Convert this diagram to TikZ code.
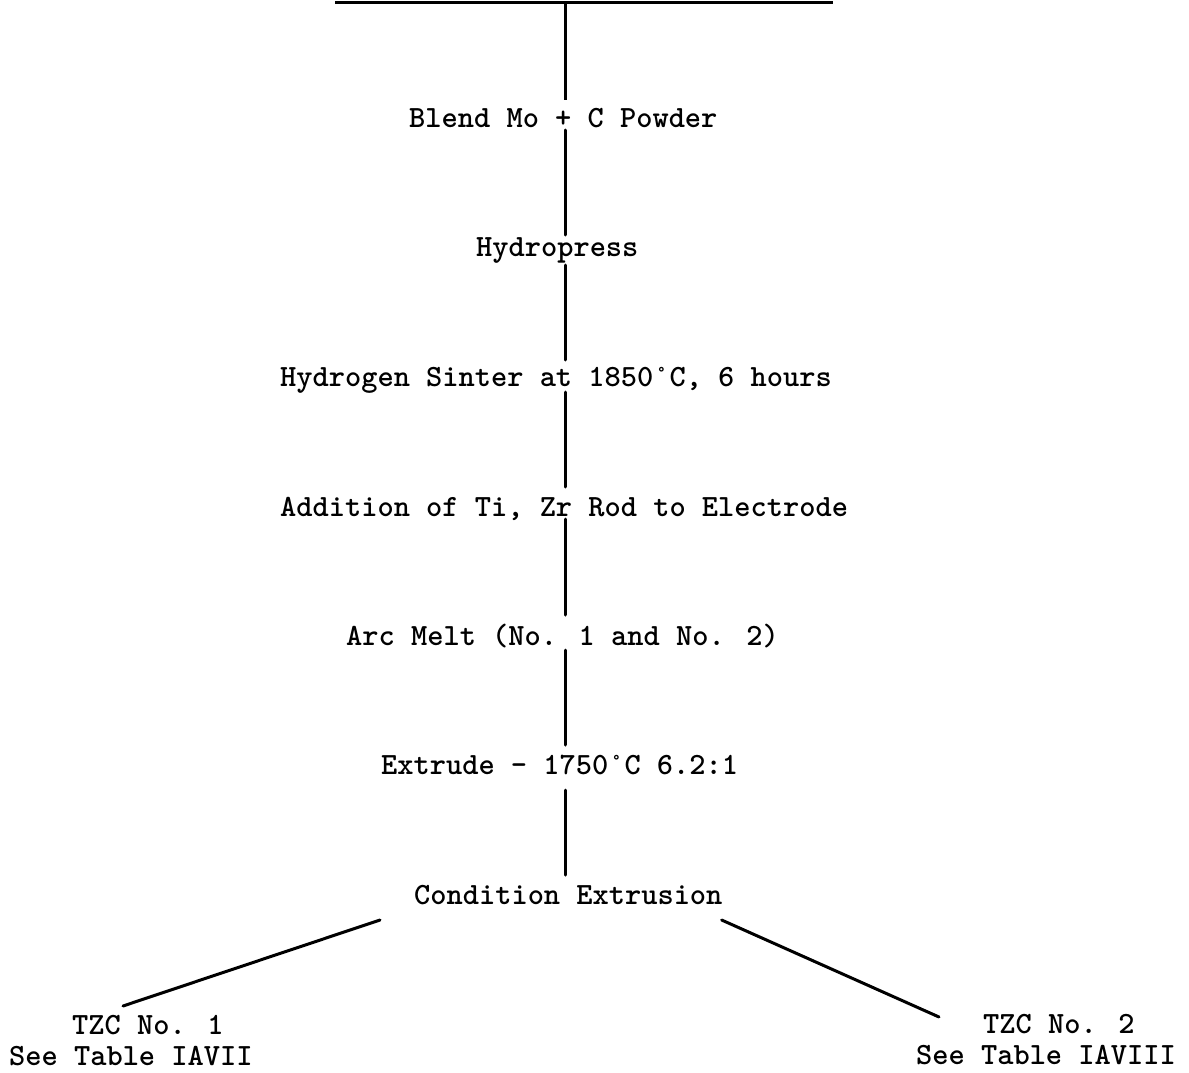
\documentclass[tikz,border=0pt]{standalone}
\usepackage{fontspec}
\usetikzlibrary{calc}
\begin{document}
\begin{tikzpicture}[x=1pt,y=-1pt,
  lbl/.style={font=\ttfamily\bfseries\fontsize{30.9}{35}\selectfont, inner sep=0pt, anchor=base west, text height=20pt, text depth=0pt},
  conn/.style={line width=3pt, line cap=round}
]
\path[use as bounding box] (0,0) rectangle (1189,1073);
% step labels
\node[lbl] (blend) at (409,127) {Blend Mo + C Powder};
\node[lbl] (hydro) at (476,256) {Hydropress};
\node[lbl] (sinter) at (280,386) {Hydrogen Sinter at 1850°C, 6 hours};
\node[lbl] (addit) at (280,516) {Addition of Ti, Zr Rod to Electrode};
\node[lbl] (arc) at (346,645) {Arc Melt (No. 1 and No. 2)};
\node[lbl] (extr) at (381,774) {Extrude - 1750°C 6.2:1};
\node[lbl] (cond) at (414,904) {Condition Extrusion};
\node[lbl] (tzca) at (72,1034) {TZC No. 1};
\node[lbl] (seea) at (9,1065) {See Table IAVII};
\node[lbl] (tzcb) at (983,1033) {TZC No. 2};
\node[lbl] (seeb) at (916,1064) {See Table IAVIII};
% top rule and spine
\coordinate (topL) at (335,3);
\coordinate (topR) at (833,3);
\coordinate (spine) at (565,3);
\draw[conn, line cap=butt] (topL) -- (topR);
\draw[conn, line cap=butt] (spine) -- ($(spine |- blend.base)+(0,-27)$);
\draw[conn] ($(spine |- blend.base)+(0,3)$) -- ($(spine |- hydro.base)+(0,-21)$);
\draw[conn] ($(spine |- hydro.base)+(0,9)$) -- ($(spine |- sinter.base)+(0,-26)$);
\draw[conn] ($(spine |- sinter.base)+(0,6)$) -- ($(spine |- addit.base)+(0,-29)$);
\draw[conn] ($(spine |- addit.base)+(0,3)$) -- ($(spine |- arc.base)+(0,-30)$);
\draw[conn] ($(spine |- arc.base)+(0,5)$) -- ($(spine |- extr.base)+(0,-29)$);
\draw[conn] ($(spine |- extr.base)+(0,16)$) -- ($(spine |- cond.base)+(0,-29)$);
% branches
\draw[conn] ($(cond.base west)+(-34,16)$) -- ($(tzca.base west)+(51,-28)$);
\draw[conn] ($(cond.base east)+(-1,16)$) -- ($(tzcb.base west)+(-44,-16)$);
\end{tikzpicture}
\end{document}
